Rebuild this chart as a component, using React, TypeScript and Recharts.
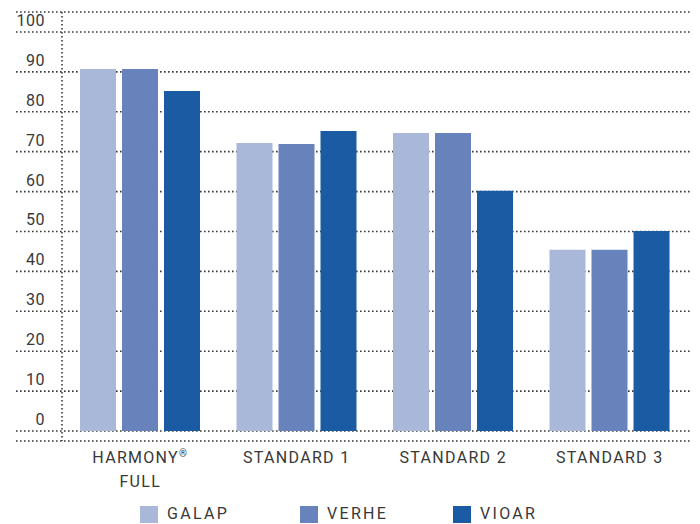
import React from 'react';
import { BarChart, Bar, XAxis, YAxis, CartesianGrid, Legend } from 'recharts';

const categories = ['HARMONY®\nFULL', 'STANDARD 1', 'STANDARD 2', 'STANDARD 3'];
const galap = [90.7, 72.2, 74.7, 45.4];
const verhe = [90.7, 71.9, 74.7, 45.4];
const vioar = [85.2, 75.2, 60.2, 50.1];
const yTicks = [0, 10, 20, 30, 40, 50, 60, 70, 80, 90, 100];
const seriesNames = ['GALAP', 'VERHE', 'VIOAR'];
const seriesColors = ['#a9b7d9', '#6882bb', '#1a5ba3'];

const data = categories.map((c, i) => ({
  name: c,
  GALAP: galap[i],
  VERHE: verhe[i],
  VIOAR: vioar[i],
}));

const FONT = 'Roboto, "DejaVu Sans", sans-serif';
const TEXT = '#383838';
const DOT = { stroke: '#3a3a3a', strokeWidth: 1.6, strokeDasharray: '1.6 2.4' };
const LEGEND_ITEM_WIDTHS = [160, 153, 120];

const renderLabelLine = (line: string) => {
  const parts = line.split('®');
  if (parts.length === 1) return line;
  return (
    <>
      {parts[0]}
      <tspan fontSize={10} dy={-6}>®</tspan>
      {parts[1] ? <tspan dy={6}>{parts[1]}</tspan> : null}
    </>
  );
};

const XTick = (props: any) => {
  const { x, y, payload } = props;
  const lines = String(payload.value).split('\n');
  return (
    <g>
      {lines.map((ln, i) => (
        <text
          key={i}
          x={x}
          y={y + 22 + i * 24}
          textAnchor="middle"
          fontFamily={FONT}
          fontSize={16}
          letterSpacing={1.3}
          fill={TEXT}
        >
          {renderLabelLine(ln)}
        </text>
      ))}
    </g>
  );
};

const YTick = (props: any) => {
  const { x, y, payload } = props;
  return (
    <text
      x={x - 17}
      y={y - 6}
      textAnchor="end"
      fontFamily={FONT}
      fontSize={16}
      letterSpacing={0.5}
      fill={TEXT}
    >
      {payload.value}
    </text>
  );
};

const gridLine = (props: any) => {
  const { y1, y2, x2, key } = props;
  return <line key={key} x1={16} x2={x2 + 2} y1={y1} y2={y2} {...DOT} />;
};

const LegendContent = (props: any) => {
  const payload = props.payload || [];
  return (
    <div style={{ display: 'flex', marginLeft: 140, height: 20, alignItems: 'center' }}>
      {payload.map((p: any, i: number) => (
        <div key={i} style={{ display: 'flex', alignItems: 'center', width: LEGEND_ITEM_WIDTHS[i] }}>
          <div style={{ width: 18, height: 17, background: p.color, marginRight: 9 }} />
          <span
            style={{
              fontFamily: FONT,
              fontSize: 16,
              letterSpacing: 2.3,
              color: TEXT,
              lineHeight: '20px',
            }}
          >
            {p.value}
          </span>
        </div>
      ))}
    </div>
  );
};

export default function App() {
  return (
    <div style={{ position: 'absolute', left: 0, top: 0, width: 700, height: 524, background: '#fff' }}>
      <BarChart
        width={700}
        height={524}
        data={data}
        margin={{ top: 12, right: 12, left: 0, bottom: 0 }}
        barSize={36}
        barGap={6}
      >
        <CartesianGrid vertical={false} horizontal={gridLine} />
        <XAxis
          dataKey="name"
          axisLine={false}
          tickLine={false}
          tickSize={0}
          tickMargin={0}
          height={63}
          interval={0}
          tick={<XTick />}
        />
        <YAxis
          domain={[-2.5, 105]}
          ticks={yTicks}
          allowDataOverflow
          width={62}
          tickLine={false}
          tickSize={0}
          tickMargin={0}
          axisLine={DOT}
          tick={<YTick />}
        />
        <Legend verticalAlign="bottom" content={<LegendContent />} />
        {seriesNames.map((s, i) => (
          <Bar key={s} dataKey={s} name={s} fill={seriesColors[i]} isAnimationActive={false} />
        ))}
      </BarChart>
    </div>
  );
}
